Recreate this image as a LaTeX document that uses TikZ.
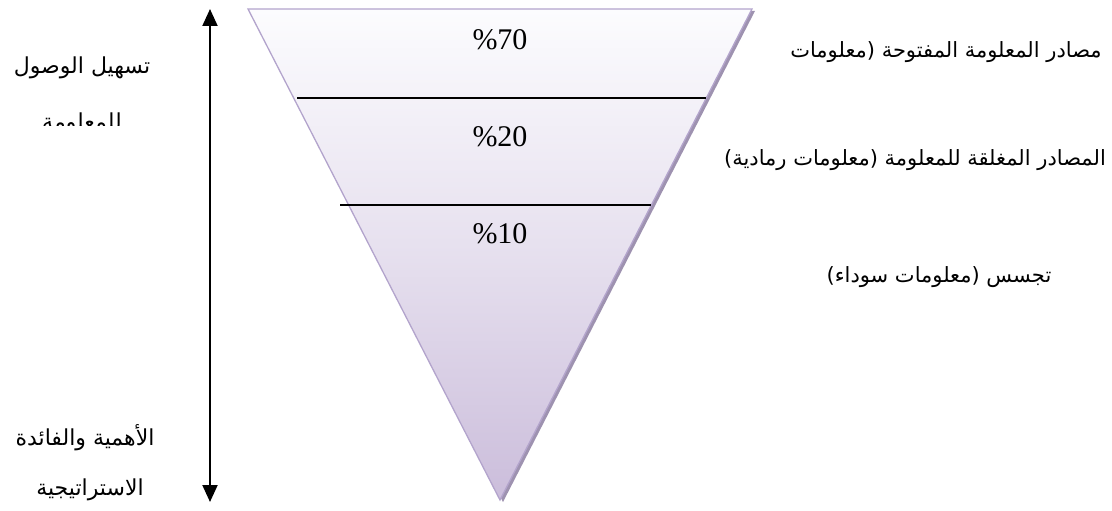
\documentclass[tikz,border=0pt]{standalone}
\usepackage{fontspec}
\setmainfont{Liberation Serif}
\newfontfamily\arabicfont[Script=Arabic]{DejaVu Sans}
\TeXXeTstate=1
\usetikzlibrary{arrows.meta}
\definecolor{funnelline}{HTML}{B3A4CC}
\definecolor{funnelshadow}{HTML}{9E92B0}
\definecolor{funneltop}{HTML}{FCFCFE}
\definecolor{funnelbot}{HTML}{CBBDDB}
\tikzset{
  pct/.style={font=\fontsize{30}{34}\selectfont, inner sep=0pt},
  arleft/.style={font=\arabicfont\fontsize{22}{26}\selectfont, inner sep=0pt, anchor=base},
  arright/.style={font=\arabicfont\fontsize{21}{25}\selectfont, inner sep=0pt, anchor=base},
  divider/.style={line width=1.3pt, black},
  axis/.style={line width=2pt, black, {Triangle[length=17pt,width=15pt]}-{Triangle[length=17pt,width=15pt]}}
}
\begin{document}
\begin{tikzpicture}[x=1pt,y=-1pt]
\useasboundingbox (0,0) rectangle (1112,511);
% funnel corners
\coordinate (tl) at (248,9);
\coordinate (tr) at (752,9);
\coordinate (ap) at (500,500);
% shadow
\fill[funnelshadow] ([shift={(3,2)}]tl) -- ([shift={(3,2)}]tr) -- ([shift={(3,2)}]ap) -- cycle;
% funnel body
\shade[top color=funneltop, bottom color=funnelbot, middle color=funneltop!55!funnelbot] (tl) -- (tr) -- (ap) -- cycle;
\draw[funnelline, line width=1.3pt, line join=miter] (tl) -- (tr) -- (ap) -- cycle;
% dividers
\coordinate (d1a) at (297,98);
\coordinate (d1b) at (706,98);
\coordinate (d2a) at (340,205);
\coordinate (d2b) at (651,205);
\draw[divider] (d1a) -- (d1b);
\draw[divider] (d2a) -- (d2b);
% percentages
\node[pct] (p70) at (500,40) {\%70};
\node[pct] (p20) at (500,137) {\%20};
\node[pct] (p10) at (500,234) {\%10};
% axis arrow
\coordinate (axtop) at (210,9);
\coordinate (axbot) at (210,502);
\draw[axis] (axbot) -- (axtop);
% left labels
\node[arleft] (l1) at (82,74) {\beginR تسهيل الوصول\endR};
\begin{scope}
\clip (0,0) rectangle (200,125);
\node[arleft] (l2) at (82,129) {\beginR للمعلومة\endR};
\end{scope}
\node[arleft] (l3) at (85,445) {\beginR الأهمية والفائدة\endR};
\node[arleft] (l4) at (90,495) {\beginR الاستراتيجية\endR};
% right labels
\node[arright] (r1) at (946,58) {\beginR مصادر المعلومة المفتوحة (معلومات\endR};
\node[arright] (r2) at (915,165) {\beginR المصادر المغلقة للمعلومة (معلومات رمادية)\endR};
\node[arright] (r3) at (939,282) {\beginR تجسس (معلومات سوداء)\endR};
\end{tikzpicture}
\end{document}
